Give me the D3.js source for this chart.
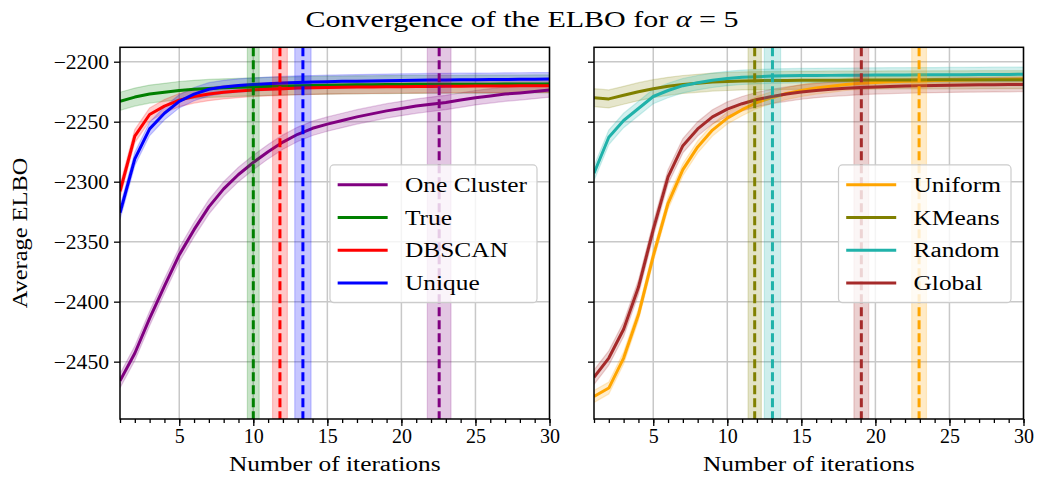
<!DOCTYPE html>
<html>
<head>
<meta charset="utf-8">
<script src="https://cdn.jsdelivr.net/npm/d3@7"></script>
<style>
  body { margin: 0; background: #fff; }
  svg { display: block; }
  text { font-family: "Liberation Serif", "Times New Roman", serif; fill: #000; }
</style>
</head>
<body>
<svg id="chart" width="1040" height="488"></svg>
<script>
// iterations on the x axis
const iterations = [1, 2, 3, 4, 5, 6, 7, 8, 9, 10, 11, 12, 13, 14, 15,
                    16, 17, 18, 19, 20, 21, 22, 23, 24, 25, 26, 27, 28, 29, 30];
const xTicks = [5, 10, 15, 20, 25, 30];
const yTicks = [-2450, -2400, -2350, -2300, -2250, -2200];

// left panel: average ELBO per iteration
const leftNames = ['One Cluster', 'True', 'DBSCAN', 'Unique'];
const elboOneCluster = [-2466, -2443, -2414, -2387, -2361, -2340, -2321, -2306, -2294, -2284,
                        -2275, -2267, -2260.5, -2255.5, -2252, -2249, -2246, -2243.5, -2241, -2239,
                        -2237, -2235.5, -2234, -2232, -2230, -2228.5, -2227, -2226, -2224.8, -2223.6];
const elboTrue = [-2233, -2229.5, -2227, -2225.5, -2224, -2223, -2222.3, -2221.8, -2221.4, -2221,
                  -2220.6, -2220.3, -2220, -2219.8, -2219.6, -2219.4, -2219.3, -2219.2, -2219.1, -2219,
                  -2218.9, -2218.9, -2218.8, -2218.8, -2218.7, -2218.7, -2218.6, -2218.6, -2218.5, -2218.5];
const elboDBSCAN = [-2308, -2262, -2244, -2237, -2232, -2229, -2227, -2225.5, -2224.5, -2223.5,
                    -2223, -2222.5, -2222, -2221.8, -2221.5, -2221.3, -2221.1, -2221, -2220.9, -2220.8,
                    -2220.7, -2220.6, -2220.5, -2220.4, -2220.3, -2220.3, -2220.2, -2220.1, -2220.1, -2220];
const elboUnique = [-2326, -2281, -2256, -2243, -2233, -2227, -2223, -2221, -2219.8, -2219,
                    -2218.3, -2217.8, -2217.3, -2217, -2216.7, -2216.4, -2216.2, -2216, -2215.8, -2215.6,
                    -2215.5, -2215.3, -2215.2, -2215.1, -2215, -2214.9, -2214.8, -2214.7, -2214.6, -2214.5];
const leftSpread = [6, 7.5, 5.5, 5.5];
// iteration where each method stops, and its spread
const leftStop = [22.55, 10.0, 11.8, 13.35];
const leftStopSpread = [0.8, 0.4, 0.5, 0.55];

// right panel
const rightNames = ['Uniform', 'KMeans', 'Random', 'Global'];
const elboUniform = [-2479, -2472, -2447, -2411, -2362, -2318, -2290, -2271, -2257, -2247,
                     -2240, -2234, -2230, -2226.5, -2224, -2222, -2220.5, -2219, -2218, -2217.3,
                     -2216.8, -2216.4, -2216, -2215.7, -2215.4, -2215.2, -2215, -2214.8, -2214.6, -2214.5];
const elboKMeans = [-2230, -2231, -2228, -2225, -2222.5, -2220.5, -2219, -2218, -2217, -2216.5,
                    -2216, -2215.8, -2215.7, -2215.6, -2215.5, -2215.5, -2215.4, -2215.4, -2215.3, -2215.3,
                    -2215.2, -2215.2, -2215.2, -2215.1, -2215.1, -2215.1, -2215, -2215, -2215, -2215];
const elboRandom = [-2293, -2263, -2249, -2239, -2229, -2224, -2220, -2217.5, -2215.5, -2214,
                    -2213, -2212.5, -2212, -2211.8, -2211.6, -2211.5, -2211.4, -2211.3, -2211.2, -2211.1,
                    -2211, -2211, -2210.9, -2210.9, -2210.8, -2210.8, -2210.7, -2210.6, -2210.6, -2210.5];
const elboGlobal = [-2463, -2447, -2423, -2388, -2340, -2296, -2270, -2256, -2246, -2239.5,
                    -2235, -2231.5, -2229, -2227, -2225.3, -2224, -2223, -2222.2, -2221.5, -2221,
                    -2220.6, -2220.3, -2220, -2219.8, -2219.6, -2219.4, -2219.3, -2219.2, -2219.1, -2219];
const rightSpread = [5, 7.5, 6, 6];
const rightStop = [22.95, 11.85, 13.05, 19.05];
const rightStopSpread = [0.5, 0.45, 0.55, 0.5];

const leftColors = ['#800080', '#008000', '#ff0000', '#0000ff'];
const rightColors = ['#ffa500', '#808000', '#20b2aa', '#a52a2a'];

const svg = d3.select('#chart');
const W = 429.5, H = 371.7, TOP = 47.3;

// stretch serif text to roughly the width of Computer Modern
function widen(sel, k) {
    sel.each(function () {
        const w = this.getComputedTextLength();
        d3.select(this).attr('textLength', w * k).attr('lengthAdjust', 'spacingAndGlyphs');
    });
    return sel;
}

function panel(left, names, means, spread, stop, stopSpread, colors, yLabels) {
    const g = svg.append('g').attr('transform', `translate(${left},${TOP})`);
    const x = d3.scaleLinear().domain([1, 30]).range([0, W]);
    const y = d3.scaleLinear().domain([-2497.8, -2188]).range([H, 0]);

    const clipId = 'clip' + left;
    g.append('clipPath').attr('id', clipId)
        .append('rect').attr('width', W).attr('height', H);

    // grid
    g.append('g').selectAll('line').data(xTicks).join('line')
        .attr('x1', d => x(d)).attr('x2', d => x(d))
        .attr('y1', 0).attr('y2', H)
        .attr('stroke', '#c8c8c8').attr('stroke-width', 1.5);
    g.append('g').selectAll('line').data(yTicks).join('line')
        .attr('x1', 0).attr('x2', W)
        .attr('y1', d => y(d)).attr('y2', d => y(d))
        .attr('stroke', '#c8c8c8').attr('stroke-width', 1.5);

    const plot = g.append('g').attr('clip-path', `url(#${clipId})`);

    const area = d3.area()
        .x((d, i) => x(iterations[i]));
    const line = d3.line()
        .x((d, i) => x(iterations[i]))
        .y(d => y(d));

    means.forEach((m, k) => {
        plot.append('path')
            .datum(m)
            .attr('d', area.y0(d => y(d - spread[k])).y1(d => y(d + spread[k])))
            .attr('fill', colors[k]).attr('fill-opacity', 0.2)
            .attr('stroke', colors[k]).attr('stroke-opacity', 0.2).attr('stroke-width', 1.2);
    });
    means.forEach((m, k) => {
        plot.append('path')
            .datum(m)
            .attr('d', line)
            .attr('fill', 'none')
            .attr('stroke', colors[k]).attr('stroke-width', 3)
            .attr('stroke-linejoin', 'round');
    });

    // stopping iteration bands and dashed lines
    stop.forEach((s, k) => {
        plot.append('rect')
            .attr('x', x(s - stopSpread[k])).attr('width', x(s + stopSpread[k]) - x(s - stopSpread[k]))
            .attr('y', 0).attr('height', H)
            .attr('fill', colors[k]).attr('fill-opacity', 0.22)
            .attr('stroke', colors[k]).attr('stroke-opacity', 0.2).attr('stroke-width', 1.2);
        plot.append('line')
            .attr('x1', x(s)).attr('x2', x(s))
            .attr('y1', 0).attr('y2', H)
            .attr('stroke', colors[k]).attr('stroke-width', 3)
            .attr('stroke-dasharray', '9,4');
    });

    // axes
    const xAxis = g.append('g').attr('transform', `translate(0,${H})`)
        .call(d3.axisBottom(x).tickValues(xTicks).tickSize(7).tickPadding(3).tickFormat(d3.format('d')));
    g.append('g').attr('transform', `translate(0,${H})`)
        .call(d3.axisBottom(x).tickValues(iterations).tickSize(4).tickFormat(''));
    const yAxis = g.append('g')
        .call(d3.axisLeft(y).tickValues(yTicks).tickSize(6).tickPadding(5)
            .tickFormat(yLabels ? (d => '\u2212' + Math.abs(d)) : ''));
    g.selectAll('.domain').remove();
    g.selectAll('.tick line').attr('stroke', '#000').attr('stroke-width', 1.3);
    g.selectAll('.tick text').attr('fill', '#000').style('font-size', '20px');
    xAxis.attr('font-family', null).attr('font-size', null);
    yAxis.attr('font-family', null).attr('font-size', null);
    widen(yAxis.selectAll('.tick text'), 1.08);

    g.append('text')
        .attr('x', W / 2).attr('y', H + 52)
        .attr('text-anchor', 'middle')
        .style('font-size', '20px')
        .text('Number of iterations')
        .call(widen, 1.27);

    // legend, centred on the right edge
    const lg = g.append('g');
    const rowH = 32.7;
    const items = lg.selectAll('g').data(names).join('g')
        .attr('transform', (d, i) => `translate(0,${(i - 1.5) * rowH})`);
    items.append('line')
        .attr('x1', 7.7).attr('x2', 57.7)
        .attr('stroke', (d, i) => colors[i]).attr('stroke-width', 3);
    const labels = items.append('text')
        .attr('x', 75).attr('dy', '0.35em')
        .style('font-size', '20px')
        .text(d => d)
        .call(widen, 1.27);
    let maxW = 0;
    labels.each(function () { maxW = Math.max(maxW, +this.getAttribute('textLength')); });
    const boxW = 75 + maxW + 10;
    lg.insert('rect', ':first-child')
        .attr('x', 0).attr('y', -68.9)
        .attr('width', boxW).attr('height', 137.7)
        .attr('rx', 4)
        .attr('fill', '#fff').attr('fill-opacity', 0.8)
        .attr('stroke', '#cccccc').attr('stroke-width', 1.2);
    lg.attr('transform', `translate(${W - 12.5 - boxW},${H / 2 + 0.7})`);

    // frame
    g.append('rect')
        .attr('width', W).attr('height', H)
        .attr('fill', 'none').attr('stroke', '#000').attr('stroke-width', 1.5);
}

panel(120, leftNames, [elboOneCluster, elboTrue, elboDBSCAN, elboUnique],
      leftSpread, leftStop, leftStopSpread, leftColors, true);
panel(594, rightNames, [elboUniform, elboKMeans, elboRandom, elboGlobal],
      rightSpread, rightStop, rightStopSpread, rightColors, false);

svg.append('text')
    .attr('transform', 'translate(27,233) rotate(-90)')
    .attr('text-anchor', 'middle')
    .style('font-size', '20px')
    .text('Average ELBO')
    .call(widen, 1.22);

const title = svg.append('text')
    .attr('x', 522).attr('y', 27)
    .attr('text-anchor', 'middle')
    .style('font-size', '24px');
title.append('tspan').text('Convergence of the ELBO for ');
title.append('tspan').style('font-style', 'italic').text('\u03b1');
title.append('tspan').text(' = 5');
title.call(widen, 1.25);
</script>
</body>
</html>
